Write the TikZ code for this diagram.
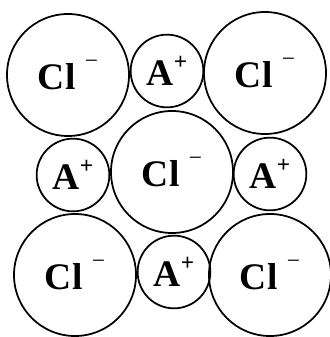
\documentclass[tikz,border=0pt]{standalone}
\usepackage{fontspec}
\setmainfont{Liberation Serif}
\newcommand{\clion}{Cl\hspace{0.25em}\raisebox{0.55em}{\mdseries\fontsize{20}{20}\selectfont −}}
\newcommand{\aion}{A\raisebox{0.42em}{\fontsize{20}{20}\selectfont +}}
\begin{document}
\begin{tikzpicture}[x=0.03cm,y=-0.03cm,line width=1.5pt]
    \tikzset{
      ion/.style={draw,circle,inner sep=0pt,font=\fontsize{32}{36}\selectfont\bfseries},
      big/.style={ion,minimum size=3.66cm},
      small/.style={ion,minimum size=2.18cm}}
    \useasboundingbox (0,0) rectangle (329,337);
    % 第一行
    \node[big]   (cl1) at (68,75)   {\clion};
    \node[small] (a1)  at (167,71)  {\aion};
    \node[big]   (cl2) at (265,73)  {\clion};
    % 第二行
    \node[small] (a2)  at (73,175)  {\aion};
    \node[big]   (cl3) at (172,172) {\clion};
    \node[small] (a3)  at (270,174) {\aion};
    % 第三行
    \node[big]   (cl4) at (75,275)  {\clion};
    \node[small] (a4)  at (174,272) {\aion};
    \node[big]   (cl5) at (270,275) {\clion};
\end{tikzpicture}
\end{document}
